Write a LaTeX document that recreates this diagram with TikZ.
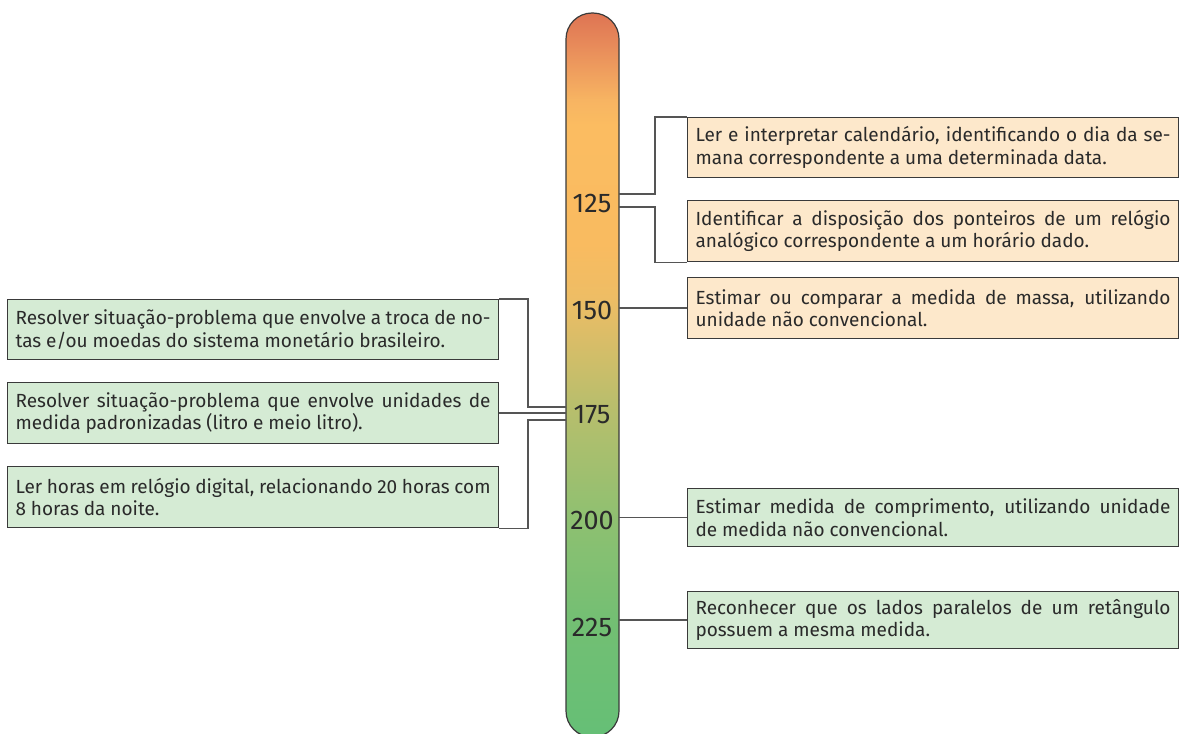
\documentclass[tikz,border=0pt]{standalone}
\usepackage{fontspec}
\setmainfont{Fira Sans}
\usetikzlibrary{calc}
\definecolor{boxorange}{HTML}{FDE8CB}
\definecolor{boxgreen}{HTML}{D5EBD4}
\definecolor{edge}{HTML}{3A3A3A}
\definecolor{conn}{HTML}{555555}
\definecolor{txt}{HTML}{2A2A2A}
\definecolor{c0}{HTML}{DD7253}
\definecolor{c1}{HTML}{E98E5B}
\definecolor{c2}{HTML}{F7B462}
\definecolor{c3}{HTML}{FBBC61}
\definecolor{c4}{HTML}{F9BB60}
\definecolor{c5}{HTML}{EDBD65}
\definecolor{c6}{HTML}{BBBE6C}
\definecolor{c7}{HTML}{8EC071}
\definecolor{c8}{HTML}{72BF73}
\definecolor{c9}{HTML}{65BF76}
\newcommand{\boxfont}{\fontsize{19}{22.5}\selectfont\hyphenpenalty=10000\spaceskip=0.26em plus 0.6em minus 0.1em\relax}
\begin{document}
\begin{tikzpicture}[x=1pt,y=-1pt,
  infobox/.style={draw=edge, line width=1.1pt, anchor=north west, text width=475pt,
    inner xsep=8pt, inner ysep=0pt, align=justify, text=txt,
    font=\boxfont},
  obox/.style={infobox, fill=boxorange},
  gbox/.style={infobox, fill=boxgreen},
  link/.style={draw=conn, line width=1.2pt},
  tick/.style={text=txt, font=\fontsize{27}{28}\selectfont, inner sep=0pt}]
\useasboundingbox (0,0) rectangle (1182,733);
% bar
\begin{scope}
\clip[rounded corners=26pt] (566,13) rectangle (619,737);
\shade[top color=c0, bottom color=c1] (560,10) rectangle (625,50);
\shade[top color=c1, bottom color=c2] (560,49.5) rectangle (625,100);
\shade[top color=c2, bottom color=c3] (560,99.5) rectangle (625,125);
\shade[top color=c3, bottom color=c4] (560,124.5) rectangle (625,245);
\shade[top color=c4, bottom color=c5] (560,244.5) rectangle (625,300);
\shade[top color=c5, bottom color=c6] (560,299.5) rectangle (625,400);
\shade[top color=c6, bottom color=c7] (560,399.5) rectangle (625,520);
\shade[top color=c7, bottom color=c8] (560,519.5) rectangle (625,625);
\shade[top color=c8, bottom color=c9] (560,624.5) rectangle (625,740);
\end{scope}
\draw[edge, line width=1.2pt, rounded corners=26pt] (566,13) rectangle (619,737);
\node[tick] (t125) at (592,203) {125};
\node[tick] (t150) at (592,310) {150};
\node[tick] (t175) at (592,415) {175};
\node[tick] (t200) at (592,520) {200};
\node[tick] (t225) at (592,627) {225};
\coordinate (barR) at (619,0);
\coordinate (barL) at (566,0);
% right boxes
\node[obox, minimum height=60pt] (r1) at (687,117) {Ler e interpretar calendário, identificando o dia da se-\linebreak mana correspondente a uma determinada data.};
\node[obox, minimum height=61pt] (r2) at (687,200) {Identificar a disposição dos ponteiros de um relógio\linebreak analógico correspondente a um horário dado.};
\node[obox, minimum height=61pt] (r3) at (687,277) {Estimar ou comparar a medida de massa, utilizando\linebreak unidade não convencional.};
\node[gbox, minimum height=58pt] (r4) at (687,488) {Estimar medida de comprimento, utilizando unidade\linebreak de medida não convencional.};
\node[gbox, minimum height=57pt] (r5) at (687,591) {Reconhecer que os lados paralelos de um retângulo\linebreak possuem a mesma medida.};
% left boxes
\node[gbox, minimum height=60pt] (l1) at (7,299) {Resolver situação-problema que envolve a troca de no-\linebreak tas e/ou moedas do sistema monetário brasileiro.};
\node[gbox, minimum height=61pt] (l2) at (7,382) {Resolver situação-problema que envolve unidades de\linebreak medida padronizadas (litro e meio litro).};
\node[gbox, minimum height=61pt] (l3) at (7,466) {Ler horas em relógio digital, relacionando 20 horas com\linebreak 8 horas da noite.};
% connectors
\coordinate (a1) at (619,194);
\coordinate (a2) at (619,207);
\draw[link] (a1) -- (655,194) |- (r1.north west);
\draw[link] (a2) -- (655,207) |- (r2.south west);
\draw[link] (r3.west -| barR) -- (r3.west);
\draw[link] (r4.west -| barR) -- (r4.west);
\draw[link] (r5.west -| barR) -- (r5.west);
\coordinate (b1) at (566,407);
\coordinate (b3) at (566,420);
\draw[link] (l1.north east) -- (528,299) |- (b1);
\draw[link] (l2.east) -- (l2.east -| barL);
\draw[link] (b3) -- (528,420) |- (l3.south east);
\end{tikzpicture}
\end{document}
